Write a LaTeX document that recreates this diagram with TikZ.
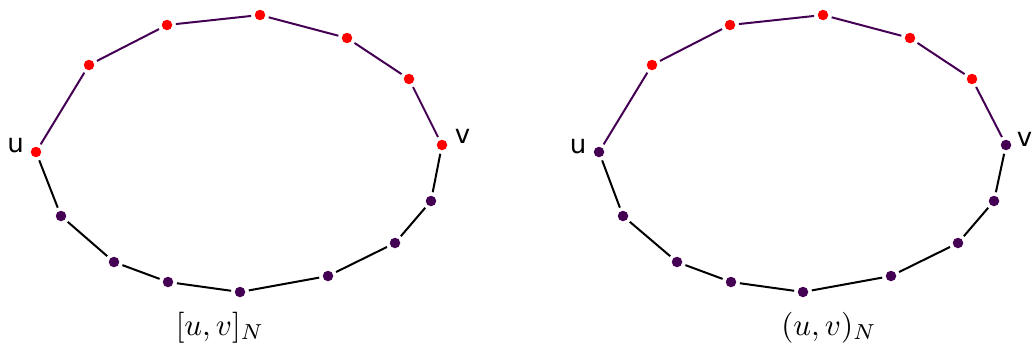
\documentclass[tikz,border=0pt]{standalone}
\usepackage{fontspec}
\newfontfamily\labfont{DejaVu Sans}
\definecolor{vpurple}{HTML}{440154}
\definecolor{vred}{HTML}{FF0000}
\tikzset{
  vx/.style={circle,fill=vpurple,inner sep=0pt,minimum size=10.5pt},
  rx/.style={vx,fill=vred},
  up/.style={draw=vpurple,line width=2pt,shorten <=3.5pt,shorten >=3.5pt},
  lo/.style={draw=black,line width=2pt,shorten <=3.5pt,shorten >=3.5pt},
  lab/.style={font=\labfont\fontsize{26}{30}\selectfont,inner sep=0pt},
  captext/.style={inner sep=0pt,anchor=base,scale=3.1}
}
\begin{document}
\begin{tikzpicture}[x=1pt,y=-1pt]
\useasboundingbox (0,0) rectangle (1032,349);
% left graph
\node[rx] (Lu) at (36,152) {};
\node[rx] (La1) at (89,65) {};
\node[rx] (La2) at (167,25) {};
\node[rx] (La3) at (260,15) {};
\node[rx] (La4) at (347,38) {};
\node[rx] (La5) at (409,79) {};
\node[rx] (Lv) at (442,145) {};
\node[vx] (Lb1) at (431,201) {};
\node[vx] (Lb2) at (395,243) {};
\node[vx] (Lb3) at (328,276) {};
\node[vx] (Lb4) at (240,292) {};
\node[vx] (Lb5) at (168,282) {};
\node[vx] (Lb6) at (114,262) {};
\node[vx] (Lb7) at (61,216) {};
\path[up] (Lu) -- (La1);
\path[up] (La1) -- (La2);
\path[up] (La2) -- (La3);
\path[up] (La3) -- (La4);
\path[up] (La4) -- (La5);
\path[up] (La5) -- (Lv);
\path[lo] (Lv) -- (Lb1);
\path[lo] (Lb1) -- (Lb2);
\path[lo] (Lb2) -- (Lb3);
\path[lo] (Lb3) -- (Lb4);
\path[lo] (Lb4) -- (Lb5);
\path[lo] (Lb5) -- (Lb6);
\path[lo] (Lb6) -- (Lb7);
\path[lo] (Lb7) -- (Lu);
\node[lab] (Lul) at (15.5,145) {u};
\node[lab] (Lvl) at (462.5,136) {v};
\node[captext] (Lcap) at (220,335) {$[u,v]_N$};
% right graph
\node[vx] (Ru) at (599,152) {};
\node[rx] (Ra1) at (652,65) {};
\node[rx] (Ra2) at (730,25) {};
\node[rx] (Ra3) at (823,15) {};
\node[rx] (Ra4) at (910,38) {};
\node[rx] (Ra5) at (972,79) {};
\node[vx] (Rv) at (1006,145) {};
\node[vx] (Rb1) at (994,201) {};
\node[vx] (Rb2) at (958,243) {};
\node[vx] (Rb3) at (891,276) {};
\node[vx] (Rb4) at (803,292) {};
\node[vx] (Rb5) at (731,282) {};
\node[vx] (Rb6) at (677,262) {};
\node[vx] (Rb7) at (623,216) {};
\path[up] (Ru) -- (Ra1);
\path[up] (Ra1) -- (Ra2);
\path[up] (Ra2) -- (Ra3);
\path[up] (Ra3) -- (Ra4);
\path[up] (Ra4) -- (Ra5);
\path[up] (Ra5) -- (Rv);
\path[lo] (Rv) -- (Rb1);
\path[lo] (Rb1) -- (Rb2);
\path[lo] (Rb2) -- (Rb3);
\path[lo] (Rb3) -- (Rb4);
\path[lo] (Rb4) -- (Rb5);
\path[lo] (Rb5) -- (Rb6);
\path[lo] (Rb6) -- (Rb7);
\path[lo] (Rb7) -- (Ru);
\node[lab] (Rul) at (578,146) {u};
\node[lab] (Rvl) at (1024.5,139) {v};
\node[captext] (Rcap) at (829,335) {$(u,v)_N$};
\end{tikzpicture}
\end{document}
